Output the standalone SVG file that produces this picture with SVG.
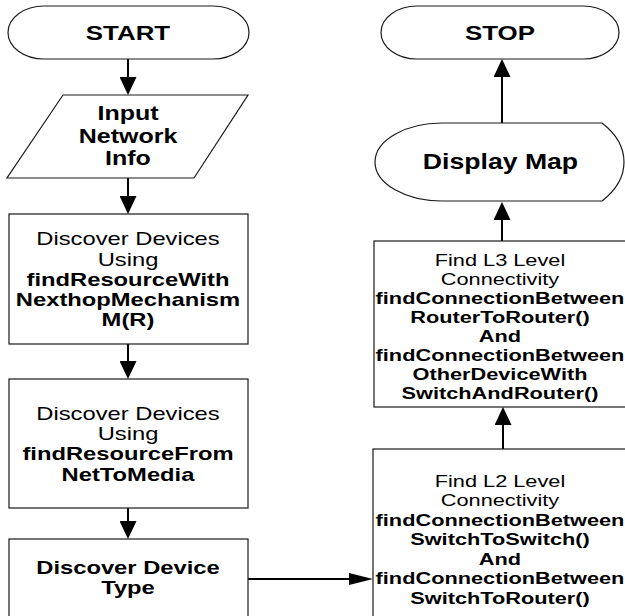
<svg xmlns="http://www.w3.org/2000/svg" width="625" height="616" viewBox="0 0 625 616">
<style>
.shape{fill:#fff;stroke:#1a1a1a;stroke-width:1.2}
.conn{fill:none;stroke:#000;stroke-width:2}
text{font-family:"Liberation Sans",Arial,sans-serif;fill:#000;text-anchor:middle}
.b{font-weight:bold}
.t{font-size:20.7px;font-weight:bold}
.l{font-size:19px}
.r{font-size:17.4px}
</style>
<defs>
<marker id="av" markerUnits="userSpaceOnUse" markerWidth="18" markerHeight="17" refX="8" refY="8.5" orient="auto"><path d="M0,0 L18,8.5 L0,17 Z" fill="#000"/></marker>
<marker id="ah" markerUnits="userSpaceOnUse" markerWidth="24" markerHeight="12" refX="14" refY="6" orient="auto"><path d="M0,0 L24,6 L0,12 Z" fill="#000"/></marker>
</defs>
<g id="connectors">
<line class="conn" x1="128" y1="59" x2="128" y2="85" marker-end="url(#av)"/>
<line class="conn" x1="128" y1="178" x2="128" y2="204" marker-end="url(#av)"/>
<line class="conn" x1="128" y1="344" x2="128" y2="369" marker-end="url(#av)"/>
<line class="conn" x1="128" y1="508" x2="128" y2="529" marker-end="url(#av)"/>
<line class="conn" x1="248" y1="579" x2="363" y2="579" marker-end="url(#ah)"/>
<line class="conn" x1="503" y1="449" x2="503" y2="417" marker-end="url(#av)"/>
<line class="conn" x1="502" y1="241" x2="502" y2="212" marker-end="url(#av)"/>
<line class="conn" x1="502" y1="123" x2="502" y2="69" marker-end="url(#av)"/>
</g>
<g id="start">
<rect class="shape" x="8" y="6" width="241" height="53" rx="36" ry="26.5"/>
<g transform="scale(1.25,1)"><text class="t" x="102.4" y="40">START</text></g>
</g>
<g id="input">
<polygon class="shape" points="63,95 248,95 194,178 7,178"/>
<g transform="scale(1.25,1)" class="b" style="font-size:20px">
<text x="102.4" y="120.5">Input</text>
<text x="102.4" y="143">Network</text>
<text x="102.4" y="165.5">Info</text>
</g>
</g>
<g id="discover1">
<rect class="shape" x="9" y="214" width="239" height="130"/>
<g transform="scale(1.25,1)" class="l">
<text x="102.4" y="245.3">Discover Devices</text>
<text x="102.4" y="265.6">Using</text>
<text class="b" x="102.4" y="285.9">findResourceWith</text>
<text class="b" x="102.4" y="306.2">NexthopMechanism</text>
<text class="b" x="102.4" y="326.5">M(R)</text>
</g>
</g>
<g id="discover2">
<rect class="shape" x="9" y="379" width="239" height="129"/>
<g transform="scale(1.25,1)" class="l">
<text x="102.4" y="419.8">Discover Devices</text>
<text x="102.4" y="440.1">Using</text>
<text class="b" x="102.4" y="460.4">findResourceFrom</text>
<text class="b" x="102.4" y="480.7">NetToMedia</text>
</g>
</g>
<g id="discover3">
<rect class="shape" x="9" y="539" width="239" height="100"/>
<g transform="scale(1.25,1)" class="l b">
<text x="102.4" y="573.8">Discover Device</text>
<text x="102.4" y="593.8">Type</text>
</g>
</g>
<g id="l2">
<rect class="shape" x="373" y="449" width="270" height="190"/>
<g transform="scale(1.25,1)" class="r">
<text x="400" y="486.7">Find L2 Level</text>
<text x="400" y="506.2">Connectivity</text>
<text class="b" x="400" y="525.7">findConnectionBetween</text>
<text class="b" x="400" y="545.2">SwitchToSwitch()</text>
<text class="b" x="400" y="564.7">And</text>
<text class="b" x="400" y="584.2">findConnectionBetween</text>
<text class="b" x="400" y="603.7">SwitchToRouter()</text>
</g>
</g>
<g id="l3">
<rect class="shape" x="374" y="241" width="270" height="166"/>
<g transform="scale(1.25,1)" class="r">
<text x="400" y="265.7">Find L3 Level</text>
<text x="400" y="284.7">Connectivity</text>
<text class="b" x="400" y="303.7">findConnectionBetween</text>
<text class="b" x="400" y="322.7">RouterToRouter()</text>
<text class="b" x="400" y="341.7">And</text>
<text class="b" x="400" y="360.7">findConnectionBetween</text>
<text class="b" x="400" y="379.7">OtherDeviceWith</text>
<text class="b" x="400" y="398.7">SwitchAndRouter()</text>
</g>
</g>
<g id="display">
<path class="shape" d="M442,123 H602 Q624,140 624,162 Q624,184 602,201 H442 A67,39 0 0 1 442,123 Z"/>
<g transform="scale(1.25,1)"><text class="b" style="font-size:21.3px" x="400.4" y="169.5">Display Map</text></g>
</g>
<g id="stop">
<rect class="shape" x="381" y="6" width="238" height="53" rx="36" ry="26.5"/>
<g transform="scale(1.25,1)"><text class="t" x="400" y="40">STOP</text></g>
</g>
</svg>
